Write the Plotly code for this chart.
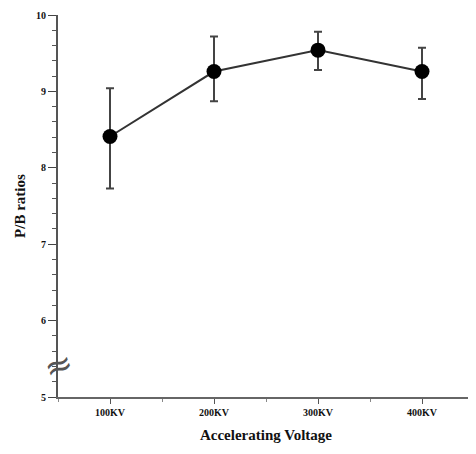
import plotly.graph_objects as go

categories = ["100KV", "200KV", "300KV", "400KV"]
positions = [1, 2, 3, 4]
pb_ratio = [8.41, 9.26, 9.54, 9.26]
err_plus = [0.63, 0.46, 0.24, 0.31]
err_minus = [0.68, 0.39, 0.26, 0.36]
y_ticks = [5, 6, 7, 8, 9, 10]

fig = go.Figure()
fig.add_trace(go.Scatter(
    x=positions, y=pb_ratio, mode="lines+markers",
    line=dict(color="#333333", width=2),
    marker=dict(color="black", size=15),
    error_y=dict(type="data", symmetric=False, array=err_plus, arrayminus=err_minus,
                 color="#444444", thickness=2, width=4),
    showlegend=False,
))

fig.add_annotation(x=0.5, y=5.42, xref="x", yref="y", text="≈", showarrow=False,
                   font=dict(family="DejaVu Sans", size=34, color="#555555"), textangle=-20)

font = dict(family="Liberation Serif", color="#111111")
fig.update_layout(
    width=468, height=446,
    margin=dict(l=50, r=2, t=7, b=57),
    paper_bgcolor="white", plot_bgcolor="white",
    font=font,
    xaxis=dict(range=[0.5, 4.5], tickvals=positions, ticktext=["<b>%s</b>" % c for c in categories],
               automargin=False,
               showgrid=False, zeroline=False, showline=True, linecolor="#666666", linewidth=2,
               ticks="outside", ticklen=5, tickcolor="#555555", tickfont=dict(size=10, family="Liberation Serif"),
               title=dict(text="<b>Accelerating Voltage</b>", font=dict(size=15, family="Liberation Serif"), standoff=12),
               minor=dict(dtick=0.5, tick0=0.5, ticks="outside", ticklen=3, tickcolor="#888888")),
    yaxis=dict(range=[5, 10], tickvals=y_ticks, ticktext=["<b>%d</b>" % v for v in y_ticks],
               automargin=False,
               showgrid=False, zeroline=False, showline=True, linecolor="#555555", linewidth=2,
               ticks="outside", ticklen=8, tickcolor="#444444", tickfont=dict(size=10, family="Liberation Serif"),
               title=dict(text="<b>P/B ratios</b>", font=dict(size=15, family="Liberation Serif"), standoff=7),
               minor=dict(dtick=0.2, ticks="outside", ticklen=4, tickcolor="#555555")),
)

fig.write_html("out.html")
